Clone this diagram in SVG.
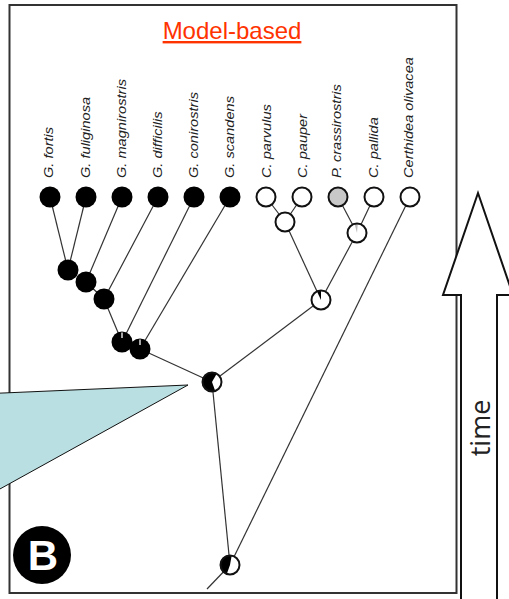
<svg xmlns="http://www.w3.org/2000/svg" width="509" height="599" viewBox="0 0 509 599">
  <style>
    .frame { fill: none; stroke: #333; stroke-width: 2; }
    .edge { stroke: #333; stroke-width: 1.2; fill: none; }
    .leaf-g { fill: #000; }
    .open { fill: #fff; stroke: #111; stroke-width: 2; }
    .ring { fill: none; stroke: #111; stroke-width: 2; }
    .taxon { font-family: "Liberation Sans", Arial, sans-serif; font-style: italic; font-size: 14.6px; fill: #222; }
    .title { font-family: "Liberation Sans", Arial, sans-serif; font-size: 24px; fill: #ff3300; text-decoration: underline; }
    .time { font-family: "Open Sans", sans-serif; font-size: 27px; fill: #222; }
  </style>

  <rect width="509" height="599" fill="#fff"/>

  <!-- panel frame -->
  <rect class="frame" x="9.5" y="5" width="447" height="588"/>

  <!-- time arrow -->
  <g id="time-arrow">
    <path d="M461,600 L461,295 L443,295 L478,193 L513,295 L497,295 L497,600" fill="#fff" stroke="#111" stroke-width="2" stroke-linejoin="miter"/>
    <text class="time" transform="translate(490,428) rotate(-90)" text-anchor="middle">time</text>
  </g>

  <text class="title" x="232" y="39" text-anchor="middle">Model-based</text>

  <!-- tree branches -->
  <g id="connectors">
    <line class="edge" x1="50" y1="197" x2="68" y2="270"/>
    <line class="edge" x1="86" y1="197" x2="68" y2="270"/>
    <line class="edge" x1="68" y1="270" x2="86" y2="282"/>
    <line class="edge" x1="122" y1="197" x2="86" y2="282"/>
    <line class="edge" x1="86" y1="282" x2="104" y2="299"/>
    <line class="edge" x1="158" y1="197" x2="104" y2="299"/>
    <line class="edge" x1="104" y1="299" x2="122" y2="342"/>
    <line class="edge" x1="194" y1="197" x2="122" y2="342"/>
    <line class="edge" x1="122" y1="342" x2="140" y2="349"/>
    <line class="edge" x1="230" y1="197" x2="140" y2="349" stroke-width="1.6"/>
    <line class="edge" x1="140" y1="349" x2="212" y2="382"/>
    <line class="edge" x1="266" y1="197" x2="285" y2="222"/>
    <line class="edge" x1="302" y1="197" x2="285" y2="222"/>
    <line class="edge" x1="338" y1="197" x2="357" y2="233"/>
    <line class="edge" x1="374" y1="197" x2="357" y2="233"/>
    <line class="edge" x1="285" y1="222" x2="321" y2="300"/>
    <line class="edge" x1="357" y1="233" x2="321" y2="300"/>
    <line class="edge" x1="321" y1="300" x2="212" y2="382"/>
    <line class="edge" x1="212" y1="382" x2="230" y2="565"/>
    <line class="edge" x1="410" y1="197" x2="230" y2="565"/>
    <line class="edge" x1="230" y1="565" x2="207" y2="589"/>
  </g>

  <!-- tips -->
  <g id="g-fortis"><circle class="leaf-g" cx="50" cy="197" r="10.5"/><text class="taxon" transform="translate(53,178) rotate(-90) scale(1,0.86)">G. fortis</text></g>
  <g id="g-fuliginosa"><circle class="leaf-g" cx="86" cy="197" r="10.5"/><text class="taxon" transform="translate(90,178) rotate(-90) scale(1,0.86)">G. fuliginosa</text></g>
  <g id="g-magnirostris"><circle class="leaf-g" cx="122" cy="197" r="10.5"/><text class="taxon" transform="translate(126,178) rotate(-90) scale(1,0.86)">G. magnirostris</text></g>
  <g id="g-difficilis"><circle class="leaf-g" cx="158" cy="197" r="10.5"/><text class="taxon" transform="translate(162,178) rotate(-90) scale(1,0.86)">G. difficilis</text></g>
  <g id="g-conirostris"><circle class="leaf-g" cx="194" cy="197" r="10.5"/><text class="taxon" transform="translate(198,178) rotate(-90) scale(1,0.86)">G. conirostris</text></g>
  <g id="g-scandens"><circle class="leaf-g" cx="230" cy="197" r="10.5"/><text class="taxon" transform="translate(234,178) rotate(-90) scale(1,0.86)">G. scandens</text></g>
  <g id="c-parvulus"><circle class="open" cx="266" cy="197" r="9.5"/><text class="taxon" transform="translate(271,178) rotate(-90) scale(1,0.86)">C. parvulus</text></g>
  <g id="c-pauper"><circle class="open" cx="302" cy="197" r="9.5"/><text class="taxon" transform="translate(307,178) rotate(-90) scale(1,0.86)">C. pauper</text></g>
  <g id="p-crassirostris"><circle class="open" cx="338" cy="197" r="9.5" style="fill:#c8c8c8"/><text class="taxon" transform="translate(341,178) rotate(-90) scale(1,0.86)">P. crassirostris</text></g>
  <g id="c-pallida"><circle class="open" cx="374" cy="197" r="9.5"/><text class="taxon" transform="translate(378,178) rotate(-90) scale(1,0.86)">C. pallida</text></g>
  <g id="certhidea-olivacea"><circle class="open" cx="410" cy="197" r="9.5"/><text class="taxon" transform="translate(413,178) rotate(-90) scale(1,0.86)">Certhidea olivacea</text></g>

  <!-- ancestral nodes (pie = state probabilities) -->
  <g id="n-fort-fulig"><circle class="leaf-g" cx="68" cy="270" r="10.5"/></g>
  <g id="n-magni"><circle class="leaf-g" cx="86" cy="282" r="10.5"/></g>
  <g id="n-diffic"><circle class="leaf-g" cx="104" cy="299" r="10.5"/></g>
  <g id="n-coniro"><circle class="leaf-g" cx="122" cy="342" r="10.5"/><line x1="122" y1="332.5" x2="122" y2="338" stroke="#fff" stroke-width="1.3"/></g>
  <g id="n-scand"><circle class="leaf-g" cx="140" cy="349" r="10.5"/><line x1="140" y1="339.5" x2="140" y2="345" stroke="#fff" stroke-width="1.3"/></g>
  <g id="n-parv-paup"><circle class="open" cx="285" cy="222" r="9.5"/></g>
  <g id="n-crass-pall">
    <circle cx="357" cy="233" r="9.5" fill="#fff"/>
    <path d="M357,233 L354.41,223.34 A10,10 0 0 1 357.87,223.04 Z" fill="#bbb"/>
    <circle class="ring" cx="357" cy="233" r="9.5"/>
  </g>
  <g id="n-tree">
    <circle cx="321" cy="300" r="9.5" fill="#fff"/>
    <path d="M321,300 L316.77,290.94 A10,10 0 0 1 321,290 Z" fill="#000"/>
    <circle class="ring" cx="321" cy="300" r="9.5"/>
  </g>
  <g id="n-darwin">
    <circle cx="212" cy="382" r="10" fill="#000"/>
    <path d="M212,382 L217,373.34 A10,10 0 0 1 215.42,391.40 Z" fill="#fff"/>
    <circle class="ring" cx="212" cy="382" r="9.5"/>
  </g>
  <g id="n-root">
    <circle cx="230" cy="565" r="9.5" fill="#fff"/>
    <path d="M230,565 L226.58,574.40 A10,10 0 0 1 231.74,555.15 Z" fill="#000"/>
    <circle class="ring" cx="230" cy="565" r="9.5"/>
  </g>

  <!-- callout pointing at the Darwin's finch ancestor -->
  <polygon id="callout" points="-20,394 188,385 -20,500" fill="#b9dfe2" stroke="#111" stroke-width="1"/>

  <!-- panel letter -->
  <g id="panel-label">
    <circle cx="42" cy="555" r="29" fill="#000"/>
    <text x="43" y="570" text-anchor="middle" font-family="Liberation Sans, Arial, sans-serif" font-weight="bold" font-size="42" fill="#fff">B</text>
  </g>
</svg>
